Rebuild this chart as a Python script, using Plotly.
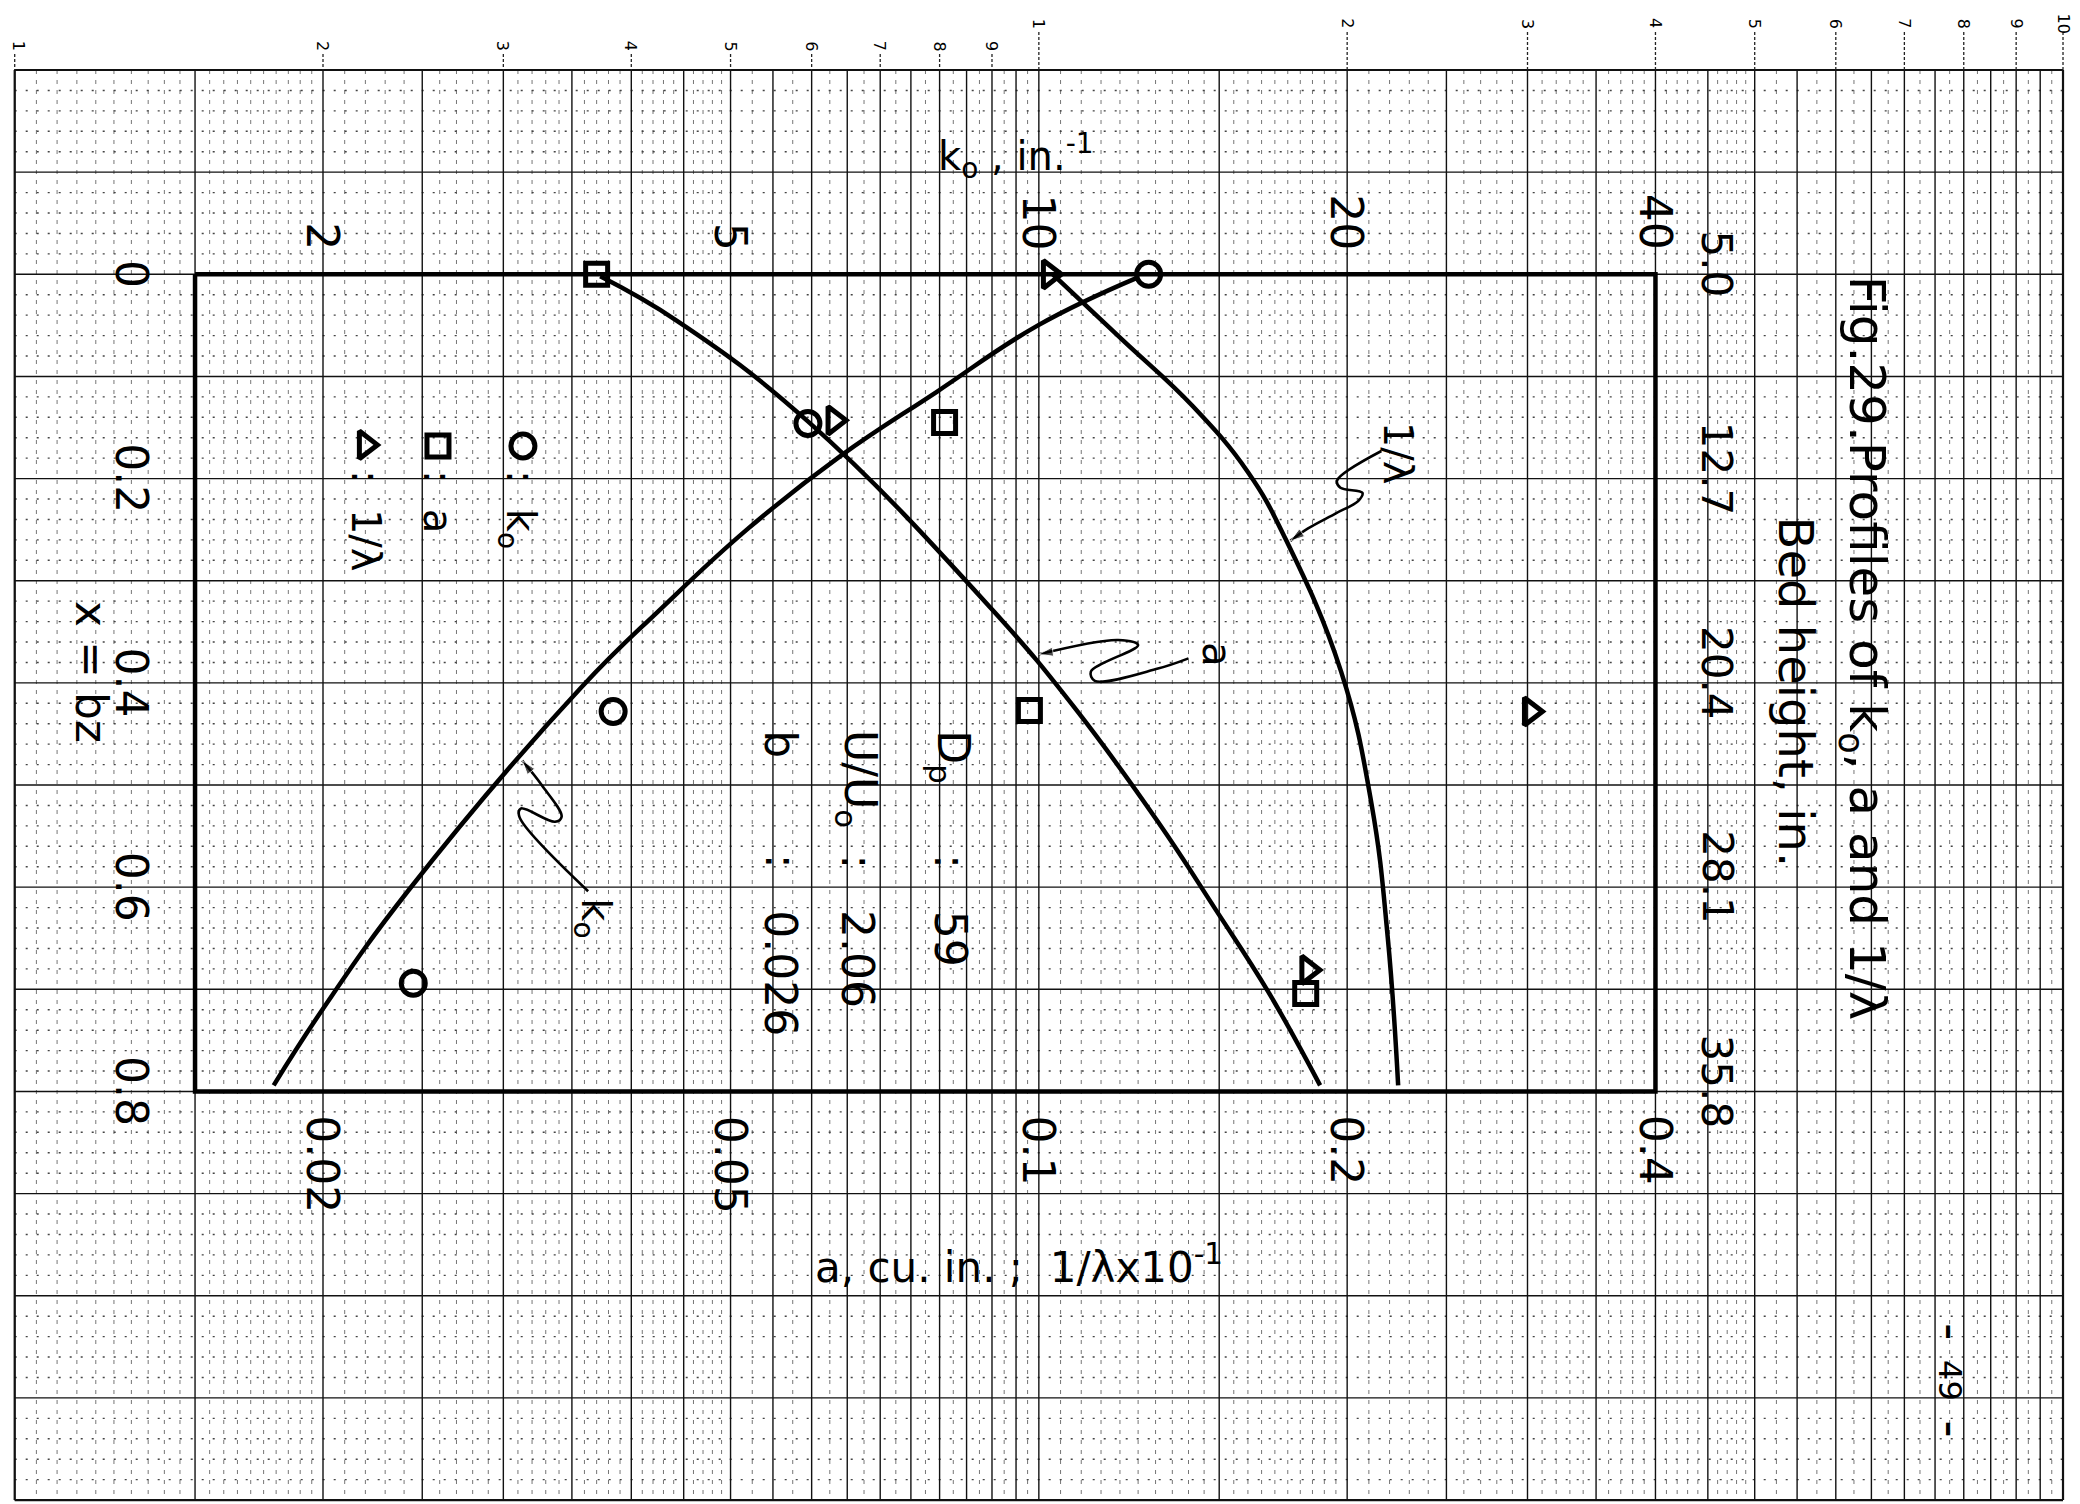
import numpy as np
import plotly.graph_objects as go

# ---- data (vertical: x = bz, across: log scales) ----
# measured points
ko_bz = [0.0, 0.146, 0.428, 0.694]
ko_pts = [12.8, 5.95, 3.84, 2.45]          # k_o, in^-1
a_bz = [0.0, 0.145, 0.427, 0.704]
a_pts = [0.0370, 0.0809, 0.0979, 0.1822]   # a, cu. in.
lam_bz = [0.0, 0.143, 0.428, 0.681]
lam_pts = [0.1024, 0.0631, 0.302, 0.1831]  # 1/lambda x 10^-1

# faired curves (hand drawn on the sheet)
ko_curve_bz = [0.003, 0.05, 0.115, 0.178, 0.249, 0.327, 0.405, 0.604, 0.719, 0.794]
ko_curve = [12.5, 9.98, 7.95, 6.40, 5.20, 4.28, 3.57, 2.42, 2.00, 1.79]
a_curve_bz = [0.002, 0.046, 0.144, 0.327, 0.425, 0.536, 0.621, 0.702, 0.794]
a_curve = [0.0373, 0.0444, 0.0595, 0.0898, 0.1085, 0.1307, 0.1486, 0.1674, 0.1882]
lam_curve_bz = [0.0, 0.064, 0.129, 0.194, 0.259, 0.389, 0.519, 0.649, 0.794]
lam_curve = [0.1032, 0.1206, 0.1413, 0.1601, 0.1741, 0.1973, 0.2113, 0.2191, 0.2243]

# tick labels
bz_ticks = [0, 0.2, 0.4, 0.6, 0.8]
bz_text = ['0', '0.2', '0.4', '0.6', '0.8']
bed_text = ['5.0', '12.7', '20.4', '28.1', '35.8']
ko_ticks = [2, 5, 10, 20, 40]
ko_text = ['2', '5', '10', '20', '40']
a_ticks = [0.02, 0.05, 0.1, 0.2, 0.4]
a_text = ['0.02', '0.05', '0.1', '0.2', '0.4']
paper_ticks = [1, 2, 3, 4, 5, 6, 7, 8, 9, 10, 20, 30, 40, 50, 60, 70, 80, 90, 100]
paper_text = ['1', '2', '3', '4', '5', '6', '7', '8', '9', '1', '2', '3', '4', '5', '6', '7', '8', '9', '10']

# squiggly pointer lines (k units, bz)
sq_lam_k = [21.6, 19.55, 19.7, 20.7, 20.5, 19.5, 18.3, 17.6]
sq_lam_bz = [0.173, 0.202, 0.209, 0.214, 0.222, 0.234, 0.249, 0.261]
sq_a_k = [14.0, 13.07, 11.34, 11.24, 12.5, 11.95, 10.0]
sq_a_bz = [0.376, 0.386, 0.398, 0.389, 0.363, 0.358, 0.372]
sq_ko_k = [3.63, 3.11, 3.12, 3.37, 3.42, 3.27, 3.13]
sq_ko_bz = [0.604, 0.531, 0.523, 0.536, 0.531, 0.500, 0.476]

FONT = 'DejaVu Sans'
X_RANGE = [-0.00654, 2.0244]
Y_RANGE = [1.2117, -0.2607]

fig = go.Figure()


def seg_v(vals, y0, y1):
    xs, ys = [], []
    for v in vals:
        xs += [v, v, None]
        ys += [y0, y1, None]
    return xs, ys


def seg_h(vals, x0, x1):
    xs, ys = [], []
    for v in vals:
        xs += [x0, x1, None]
        ys += [v, v, None]
    return xs, ys


# graph paper
dec_major = [1, 1.5, 2, 2.5, 3, 3.5, 4, 4.5, 5, 5.5, 6, 6.5, 7, 7.5, 8, 8.5, 9, 9.5]
major_k = dec_major + [10 * v for v in dec_major] + [100]
dec_minor = [round(v, 3) for v in np.arange(1.05, 2.0, 0.05)] + \
            [round(v, 3) for v in np.arange(2.1, 5.0, 0.1)] + \
            [round(v, 3) for v in np.arange(5.25, 10.0, 0.25)]
dec_minor = [v for v in dec_minor if all(abs(v - m) > 1e-6 for m in dec_major)]
minor_k = dec_minor + [10 * v for v in dec_minor]
major_y = [round(v, 3) for v in np.arange(-0.2, 1.2001, 0.1)]
minor_y = [round(v, 3) for v in np.arange(-0.2, 1.2001, 0.02)]
minor_y = [v for v in minor_y if all(abs(v - m) > 1e-6 for m in major_y)]

x, y = seg_v(minor_k, -0.2, 1.2)
fig.add_trace(go.Scatter(x=x, y=y, mode='lines', line=dict(color='#666', width=0.9, dash='4px,6px'), hoverinfo='skip'))
x, y = seg_h(minor_y, 1, 100)
fig.add_trace(go.Scatter(x=x, y=y, mode='lines', line=dict(color='#444', width=1.4, dash='2px,9px'), hoverinfo='skip'))
x, y = seg_v(major_k, -0.2, 1.2)
fig.add_trace(go.Scatter(x=x, y=y, mode='lines', line=dict(color='#111', width=1.4), hoverinfo='skip'))
x, y = seg_h(major_y, 1, 100)
fig.add_trace(go.Scatter(x=x, y=y, mode='lines', line=dict(color='#111', width=1.4), hoverinfo='skip'))
x, y = seg_v([1, 100], -0.2, 1.2)
fig.add_trace(go.Scatter(x=x, y=y, mode='lines', line=dict(color='#111', width=2.2), hoverinfo='skip'))
x, y = seg_h([-0.2, 1.2], 1, 100)
fig.add_trace(go.Scatter(x=x, y=y, mode='lines', line=dict(color='#111', width=2.2), hoverinfo='skip'))

# printed scale ticks on top of paper
xs, ys = [], []
for v in paper_ticks:
    top = -0.2157 if v < 10 else -0.2372
    xs += [v, v, None]
    ys += [top, -0.2, None]
fig.add_trace(go.Scatter(x=xs, y=ys, mode='lines', line=dict(color='#222', width=1.3, dash='3px,2px'), hoverinfo='skip'))

# plot frame
box_k = [1.5, 40, 40, 1.5, 1.5]
box_bz = [0, 0, 0.8, 0.8, 0]
fig.add_trace(go.Scatter(x=box_k, y=box_bz, mode='lines', line=dict(color='black', width=4.5), hoverinfo='skip'))

# curves
fig.add_trace(go.Scatter(x=ko_curve, y=ko_curve_bz, mode='lines', line=dict(color='black', width=4.5, shape='spline', smoothing=1.2)))
fig.add_trace(go.Scatter(x=a_curve, y=a_curve_bz, xaxis='x2', mode='lines', line=dict(color='black', width=4.5, shape='spline', smoothing=1.2)))
fig.add_trace(go.Scatter(x=lam_curve, y=lam_curve_bz, xaxis='x2', mode='lines', line=dict(color='black', width=4.5, shape='spline', smoothing=1.2)))

# points
mk = dict(color='black', line=dict(color='black', width=5))
fig.add_trace(go.Scatter(x=ko_pts, y=ko_bz, mode='markers', marker=dict(mk, symbol='circle-open', size=24)))
fig.add_trace(go.Scatter(x=a_pts, y=a_bz, xaxis='x2', mode='markers', marker=dict(mk, symbol='square-open', size=22)))
fig.add_trace(go.Scatter(x=lam_pts, y=lam_bz, xaxis='x2', mode='markers', marker=dict(mk, symbol='triangle-right-open', size=24)))

# legend symbols
fig.add_trace(go.Scatter(x=[3.135], y=[0.168], mode='markers', marker=dict(mk, symbol='circle-open', size=24)))
fig.add_trace(go.Scatter(x=[2.59], y=[0.168], mode='markers', marker=dict(mk, symbol='square-open', size=22)))
fig.add_trace(go.Scatter(x=[2.20], y=[0.167], mode='markers', marker=dict(mk, symbol='triangle-right-open', size=24)))

# squiggle pointers with arrow heads
for sk, sb in [(sq_lam_k, sq_lam_bz), (sq_a_k, sq_a_bz), (sq_ko_k, sq_ko_bz)]:
    n = len(sk)
    fig.add_trace(go.Scatter(
        x=sk, y=sb, mode='lines+markers',
        line=dict(color='black', width=2.6, shape='spline'),
        marker=dict(symbol=['circle'] * (n - 1) + ['arrow'], size=[0] * (n - 1) + [15],
                    color='black', angleref='previous'),
    ))

ann = []


def txt(text, x, y, size, xref='x', angle=90, xa='center', ya='middle'):
    ann.append(dict(text=text, x=x, y=y, xref=xref, yref='y', showarrow=False,
                    textangle=angle, xanchor=xa, yanchor=ya,
                    font=dict(family=FONT, size=size, color='black')))


lg = np.log10
# printed paper labels
for v, t in zip(paper_ticks, paper_text):
    yy = -0.2235 if v < 10 else -0.2455
    xv = lg(v) if v > 1 else 0.0045
    txt(t, xv, yy, 16)

# hand lettered axes
for v, t in zip(ko_ticks, ko_text):
    txt(t, lg(v), -0.0215, 44, ya='bottom')
for v, t in zip(a_ticks, a_text):
    txt(t, lg(v), 0.8214, 44, xref='x2', ya='top')
for v, t in zip(bz_ticks, bz_text):
    txt(t, lg(1.30), v, 44)
for v, t in zip(bz_ticks, bed_text):
    txt(t, lg(45.9), v - 0.01, 42)

txt('x = bz', lg(1.19), 0.318, 44, ya='top')
txt('k<sub>o</sub> , in.<sup>-1</sup>', 0.8995, -0.1155, 40, angle=0, xa='left')
txt('a, cu. in. ;  1/λx10<sup>-1</sup>', 0.7794 - 2, 0.9693, 42, xref='x2', angle=0, xa='left')
txt('Fig.29.Profiles of k<sub>o</sub>, a and 1/λ', lg(63.8), -0.001, 50, ya='top')
txt('Bed height, in.', lg(54.9), 0.235, 48, ya='top')

# legend text
txt(':  k<sub>o</sub>', lg(3.10), 0.19, 40, ya='top')
txt(':  a', lg(2.59), 0.19, 40, ya='top')
txt(':  1/λ', lg(2.20), 0.19, 40, ya='top')

# parameters
for k, lab, val in [(8.2, 'D<sub>p</sub>', '59'), (6.65, 'U/U<sub>o</sub>', '2.06'), (5.6, 'b', '0.026')]:
    txt(lab, lg(k), 0.4445, 44, ya='top')
    txt(':', lg(k), 0.575, 44)
    txt(val, lg(k), 0.6207, 44, ya='top')

# curve labels
txt('1/λ', lg(22.4), 0.1753, 40)
txt('a', lg(14.9), 0.372, 40)
txt('k<sub>o</sub>', lg(3.67), 0.6305, 40)

# page number
txt('<b>–</b>  49  <b>–</b>', lg(77.5), 1.0828, 32)

fig.update_layout(
    width=2080, height=1504,
    margin=dict(l=0, r=0, t=0, b=0),
    paper_bgcolor='white', plot_bgcolor='white',
    showlegend=False,
    xaxis=dict(type='log', range=X_RANGE, visible=False),
    xaxis2=dict(type='log', range=[X_RANGE[0] - 2, X_RANGE[1] - 2], overlaying='x', visible=False),
    yaxis=dict(range=Y_RANGE, visible=False),
    annotations=ann,
)

fig.write_html("out.html")
